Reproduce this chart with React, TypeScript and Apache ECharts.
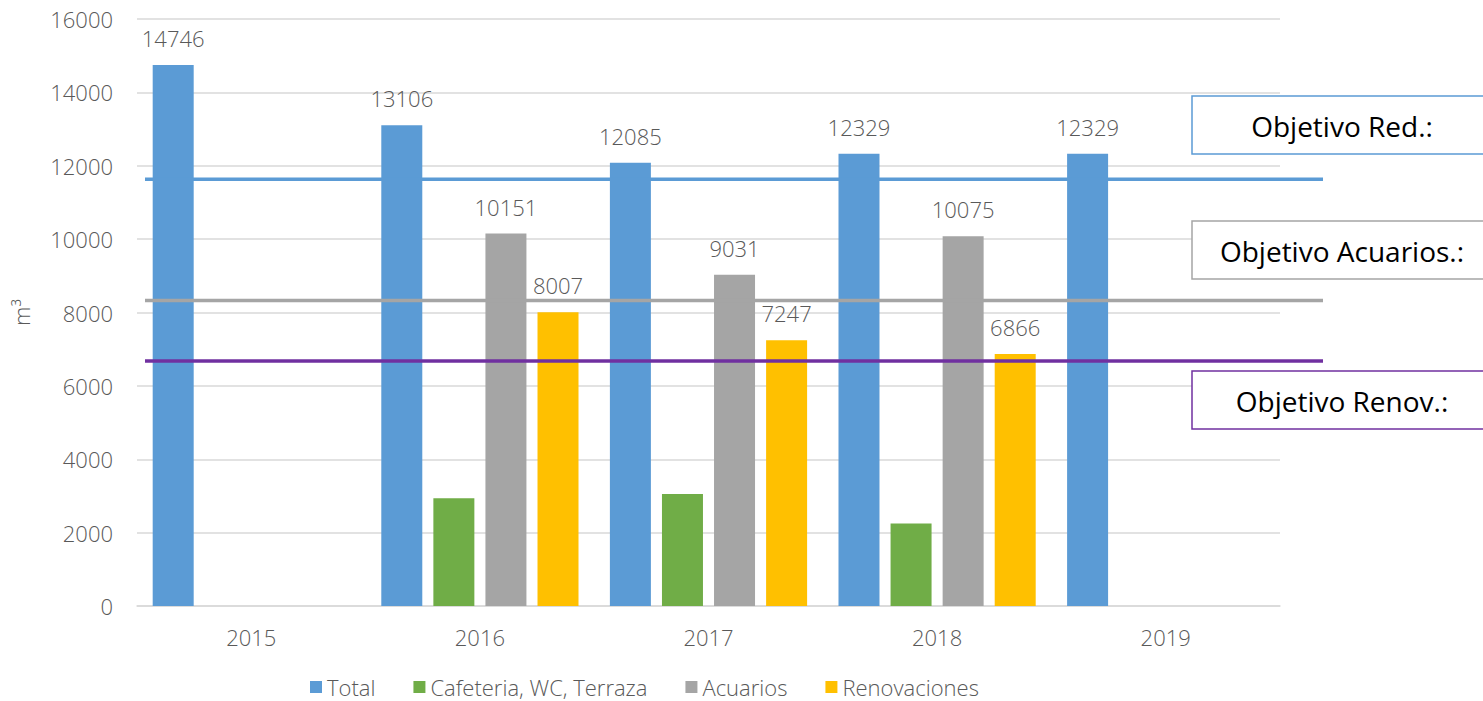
import React, { useEffect, useRef } from "react";
import * as echarts from "echarts";

const categories = ["2015", "2016", "2017", "2018", "2019"];
const totalValues = [14746, 13106, 12085, 12329, 12329];
const cafeteriaValues: (number | null)[] = [null, 2940, 3050, 2250, null];
const acuariosValues: (number | null)[] = [null, 10151, 9031, 10075, null];
const renovValues: (number | null)[] = [null, 8007, 7247, 6866, null];
const seriesNames = ["Total", "Cafeteria, WC, Terraza", "Acuarios", "Renovaciones"];
const colors = ["#5b9bd5", "#70ad47", "#a5a5a5", "#ffc000"];
const targetValues = [11630, 8330, 6680];
const targetColors = ["#5b9bd5", "#a5a5a5", "#7030a0"];
const targetLabels = ["Objetivo Red.:", "Objetivo Acuarios.:", "Objetivo Renov.:"];
const yTicks = { min: 0, max: 16000, interval: 2000 };

const FONT = "'Open Sans', 'Noto Sans', sans-serif";
const TXT = "#595959";
const FW = 300;

export default function App() {
  const ref = useRef<HTMLDivElement>(null);
  useEffect(() => {
    if (!ref.current) return;
    const chart = echarts.init(ref.current, null, { renderer: "svg" });
    const label = (show: boolean) => ({
      show,
      position: "top" as const,
      distance: 16,
      color: TXT,
      fontSize: 22,
      fontWeight: FW,
      fontFamily: FONT,
    });
    const dataSets = [totalValues, cafeteriaValues, acuariosValues, renovValues];
    chart.setOption({
      animation: false,
      textStyle: { fontFamily: FONT },
      grid: { left: 137, right: 203, top: 19, bottom: 95 },
      legend: {
        left: 305,
        top: 671,
        itemWidth: 12,
        itemHeight: 12,
        itemGap: 38,
        icon: "rect",
        textStyle: { color: TXT, fontSize: 22, fontWeight: FW, fontFamily: FONT },
        data: seriesNames,
      },
      xAxis: {
        type: "category",
        data: categories,
        axisLine: { lineStyle: { color: "#d9d9d9", width: 1.5 } },
        axisTick: { show: false },
        axisLabel: { color: TXT, fontSize: 22, fontWeight: FW, margin: 20, fontFamily: FONT },
      },
      yAxis: {
        type: "value",
        min: yTicks.min,
        max: yTicks.max,
        interval: yTicks.interval,
        name: "m³",
        nameLocation: "middle",
        nameGap: 105,
        nameRotate: 90,
        nameTextStyle: { color: TXT, fontSize: 22, fontWeight: FW, fontFamily: FONT },
        axisLine: { show: false },
        axisTick: { show: false },
        axisLabel: {
          color: TXT,
          fontSize: 22,
          fontWeight: FW,
          margin: 24,
          fontFamily: FONT,
          formatter: (v: number) => String(v),
        },
        splitLine: { lineStyle: { color: "#d9d9d9", width: 1.5 } },
      },
      series: dataSets.map((d, i) => ({
        name: seriesNames[i],
        type: "bar",
        data: d,
        barWidth: 41,
        barGap: "27%",
        itemStyle: { color: colors[i] },
        label: label(i !== 1),
      })),
    });

    const lines: any[] = targetValues.map((v, i) => {
      const y = chart.convertToPixel({ yAxisIndex: 0 }, v) as number;
      return {
        type: "line",
        shape: { x1: 145, y1: y, x2: 1323, y2: y },
        style: { stroke: targetColors[i], lineWidth: 3.5 },
        z: 10,
      };
    });
    const boxTops = [96, 221, 371];
    const boxes: any[] = [];
    boxTops.forEach((t, i) => {
      boxes.push({
        type: "rect",
        shape: { x: 1192, y: t, width: 310, height: 58 },
        style: { fill: "#ffffff", stroke: targetColors[i], lineWidth: 1.5 },
        z: 11,
      });
      boxes.push({
        type: "text",
        x: 1342,
        y: t + 30,
        style: {
          text: targetLabels[i],
          fill: "#000000",
          fontSize: 28,
          fontFamily: FONT,
          align: "center",
          verticalAlign: "middle",
        },
        z: 12,
      });
    });
    chart.setOption({ graphic: [...lines, ...boxes] });

    return () => chart.dispose();
  }, []);
  return (
    <div
      ref={ref}
      style={{ position: "fixed", left: 0, top: 0, width: 1483, height: 701, background: "#fff" }}
    />
  );
}
